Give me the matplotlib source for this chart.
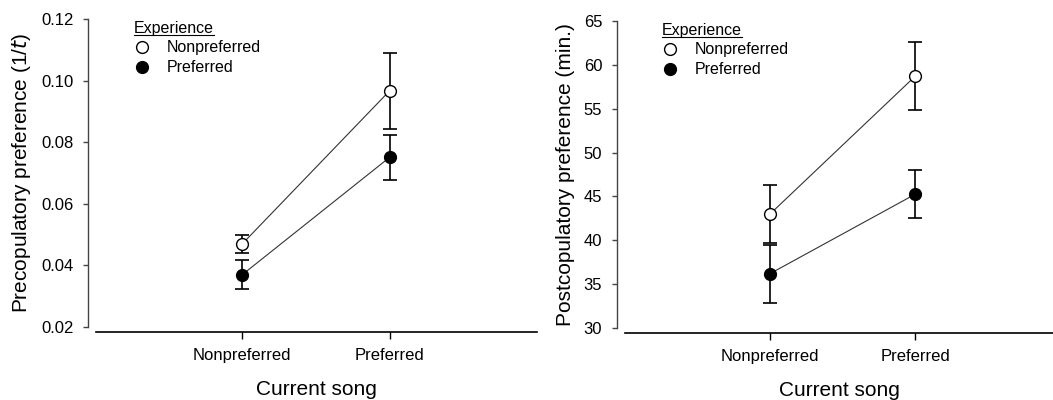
import matplotlib
matplotlib.use("Agg")
import matplotlib.pyplot as plt
from matplotlib.lines import Line2D

plt.rcParams["font.family"] = ["Liberation Sans", "DejaVu Sans"]

# ---------------------------------------------------------------------------
# Data
# ---------------------------------------------------------------------------
current_song = ["Nonpreferred", "Preferred"]
experience = ["Nonpreferred", "Preferred"]

pre_nonpref_mean = [0.047, 0.0967]
pre_nonpref_err = [0.0030, 0.0123]
pre_pref_mean = [0.037, 0.0751]
pre_pref_err = [0.0047, 0.0074]

post_nonpref_mean = [43.0, 58.7]
post_nonpref_err = [3.3, 3.85]
post_pref_mean = [36.2, 45.25]
post_pref_err = [3.3, 2.75]

pre_yticks = [0.02, 0.04, 0.06, 0.08, 0.10, 0.12]
post_yticks = [30, 35, 40, 45, 50, 55, 60, 65]


def draw_panel(ax, nonpref_mean, nonpref_err, pref_mean, pref_err,
               yticks, ylabel, xlim, ytick_fmt):
    x = range(len(current_song))
    for mean, err in [(nonpref_mean, nonpref_err), (pref_mean, pref_err)]:
        ax.errorbar(x, mean, yerr=err, fmt="none", ecolor="black",
                    elinewidth=1.2, capsize=5, capthick=1.2, zorder=2)
    ax.plot(x, nonpref_mean, color="#333333", lw=0.8, marker="o", ms=8.5,
            mfc="white", mec="black", mew=1.0, zorder=3,
            label=experience[0])
    ax.plot(x, pref_mean, color="#333333", lw=0.8, marker="o", ms=8.5,
            mfc="black", mec="black", mew=1.0, zorder=3,
            label=experience[1])

    ax.set_xlim(*xlim)
    ax.set_ylim(yticks[0], yticks[-1])
    ax.set_xticks(list(x))
    ax.set_xticklabels(current_song)
    ax.set_yticks(yticks)
    ax.set_yticklabels([ytick_fmt.format(v) for v in yticks])

    for s in ["top", "right"]:
        ax.spines[s].set_visible(False)
    ax.spines["left"].set_position(("outward", 5.76))
    ax.spines["left"].set_color("#444444")
    ax.spines["left"].set_linewidth(1.0)
    ax.spines["bottom"].set_position(("outward", 3.4))
    ax.spines["bottom"].set_linewidth(1.2)
    ax.tick_params(axis="y", length=3.6, width=1.0, color="#444444", pad=7,
                   labelsize=12)
    ax.tick_params(axis="x", length=5, width=1.0, pad=6.5, labelsize=12)

    ax.set_xlabel("Current song", fontsize=15, labelpad=12.5)
    ax.set_ylabel(ylabel, fontsize=15, labelpad=6)

    handles = [Line2D([], [], ls="none", marker="o", ms=8.5, mfc="white",
                      mec="black", mew=1.0),
               Line2D([], [], ls="none", marker="o", ms=8.5, mfc="black",
                      mec="black", mew=1.0)]
    leg = ax.legend(handles, experience, title="Experience", loc="upper left",
                    bbox_to_anchor=(0.086, 0.995), frameon=False,
                    fontsize=11.5, title_fontsize=11.5, alignment="left",
                    handlelength=1.0, handletextpad=1.05, labelspacing=0.3,
                    borderpad=0, borderaxespad=0)
    return leg


fig = plt.figure(figsize=(10.53, 4), dpi=100)
ax1 = fig.add_axes([96 / 1053, 1 - 327 / 400, 441 / 1053, 308 / 400])
ax2 = fig.add_axes([625 / 1053, 1 - 328 / 400, 428 / 1053, 307 / 400])

leg1 = draw_panel(ax1, pre_nonpref_mean, pre_nonpref_err, pre_pref_mean,
                  pre_pref_err, pre_yticks,
                  "Precopulatory preference (1/$\\mathit{t}$)",
                  (-0.993, 2.0), "{:.2f}")
leg2 = draw_panel(ax2, post_nonpref_mean, post_nonpref_err, post_pref_mean,
                  post_pref_err, post_yticks,
                  "Postcopulatory preference (min.)",
                  (-1.0, 1.95), "{:.0f}")

# underline the legend titles
fig.canvas.draw()
renderer = fig.canvas.get_renderer()
for leg in (leg1, leg2):
    bb = leg.get_title().get_window_extent(renderer)
    y = bb.y0 + 1
    fig.add_artist(Line2D([bb.x0 / 1053, bb.x1 / 1053], [y / 400, y / 400],
                          color="black", lw=0.8))

fig.savefig("out.png", dpi=100)
